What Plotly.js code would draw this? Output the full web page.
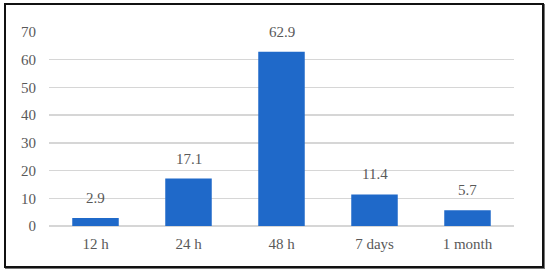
<!DOCTYPE html>
<html>
<head>
<meta charset="utf-8">
<script src="https://cdn.plot.ly/plotly-3.0.1.min.js"></script>
<style>
  html, body { margin: 0; padding: 0; background: #fff; }
  #frame {
    position: absolute; left: 4px; top: 3px;
    width: 536px; height: 261px;
    border: 2px solid #111;
    box-shadow: 1px 1px 0 #777;
  }
  #chart { position: absolute; left: 0; top: 0; width: 550px; height: 274px; }
</style>
</head>
<body>
<div id="frame"></div>
<div id="chart"></div>
<script>
let categories = ['12 h', '24 h', '48 h', '7 days', '1 month'];
let values = [2.9, 17.1, 62.9, 11.4, 5.7];
let yTicks = [0, 10, 20, 30, 40, 50, 60, 70];

let txtFont = {family: 'Liberation Serif, Times New Roman, serif', size: 15, color: '#595959'};

let data = [
    {
        x: categories,
        y: values,
        type: 'bar',
        marker: {color: '#1f69c9'},
        hoverinfo: 'none'
    }
];

// value labels sit a bit higher than plotly's own 'outside' text
let labels = [];
for (let i = 0; i < categories.length; i++) {
    labels.push({
        x: categories[i], y: values[i], text: String(values[i]),
        showarrow: false, yanchor: 'bottom', yshift: 10, font: txtFont
    });
}

let layout = {
    width: 550, height: 274,
    margin: {l: 49, r: 36, t: 32, b: 48},
    paper_bgcolor: 'rgba(0,0,0,0)',
    plot_bgcolor: 'rgba(0,0,0,0)',
    bargap: 0.5,
    showlegend: false,
    font: txtFont,
    xaxis: {
        showgrid: false, showline: false, zeroline: false,
        ticks: '', ticklabelstandoff: 7, tickfont: txtFont
    },
    yaxis: {
        range: [0, 70], tickvals: yTicks,
        showgrid: true, gridcolor: '#d6d6d6', gridwidth: 1.4,
        zeroline: true, zerolinecolor: '#d6d6d6', zerolinewidth: 1.4,
        showline: false, ticks: '', ticklabelstandoff: 12, tickfont: txtFont
    },
    annotations: labels
};

let config = {staticPlot: true};

Plotly.newPlot('chart', data, layout, config);
</script>
</body>
</html>
